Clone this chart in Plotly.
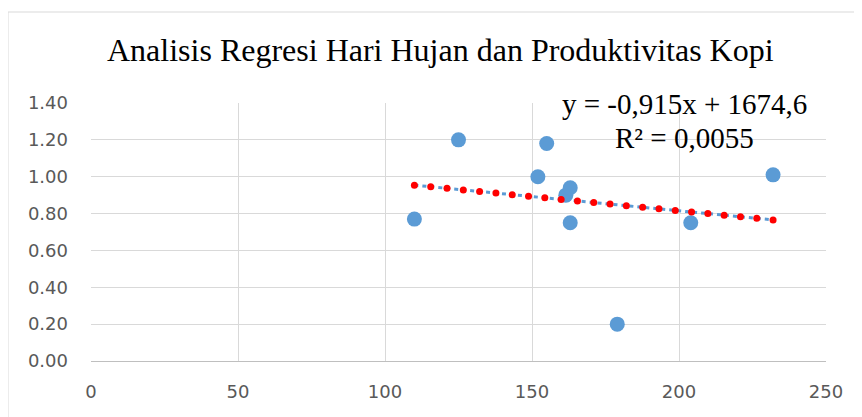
import numpy as np
import plotly.graph_objects as go

# Data
hari_hujan = [110, 125, 152, 155, 161.5, 163, 163, 179, 204, 232]
produktivitas = [0.77, 1.20, 1.00, 1.18, 0.90, 0.94, 0.75, 0.20, 0.75, 1.01]
title_text = "Analisis Regresi Hari Hujan dan Produktivitas Kopi"
eq_line1 = "y = -0,915x + 1674,6"
eq_line2 = "R² = 0,0055"
x_ticks = [0, 50, 100, 150, 200, 250]
y_ticks = [0.0, 0.2, 0.4, 0.6, 0.8, 1.0, 1.2, 1.4]

x = np.array(hari_hujan, dtype=float)
y = np.array(produktivitas, dtype=float)
slope, intercept = np.polyfit(x, y, 1)
tx = np.linspace(x.min(), x.max(), 23)
ty = slope * tx + intercept

# page body has an 8px margin
OFF = 8
W, H = 862 - OFF, 417 - OFF
ml, mt = 91 - OFF, 103 - OFF
mr = W - (826 - OFF)
mb = H - (361 - OFF)
pw, ph = W - ml - mr, H - mt - mb


def px_x(px):
    return (px - OFF - ml) / pw


def px_y(py):
    return (H - mb - (py - OFF)) / ph


fig = go.Figure()
fig.add_trace(go.Scatter(x=hari_hujan, y=produktivitas, mode="markers",
                         marker=dict(size=15, color="#5B9BD5", line=dict(width=0)),
                         showlegend=False))
fig.add_trace(go.Scatter(x=[tx[0], tx[-1]], y=[ty[0], ty[-1]], mode="lines",
                         line=dict(color="#5B9BD5", width=3, dash="4px,4px"),
                         showlegend=False))
fig.add_trace(go.Scatter(x=tx, y=ty, mode="markers",
                         marker=dict(size=7, color="#FF0000", line=dict(width=0)),
                         showlegend=False))

axis_font = dict(family="DejaVu Sans", size=18, color="#595959")
fig.update_xaxes(range=[0, 250], tickvals=x_ticks, showgrid=True, gridcolor="#D9D9D9",
                 gridwidth=1, zeroline=False, showline=True, linecolor="#BFBFBF",
                 linewidth=1, ticks="", tickfont=axis_font, ticklabelstandoff=14)
fig.update_yaxes(range=[0, 1.4], tickvals=y_ticks, tickformat=".2f", showgrid=True,
                 gridcolor="#D9D9D9", gridwidth=1, zeroline=False, showline=False,
                 ticks="", tickfont=axis_font, ticklabelstandoff=22)

serif = "Liberation Serif"
fig.add_annotation(text=title_text, xref="paper", yref="paper",
                   x=px_x(440), y=px_y(50),
                   xanchor="center", yanchor="middle", showarrow=False,
                   font=dict(family=serif, size=32, color="#000000"))
fig.add_annotation(text=eq_line1, xref="paper", yref="paper",
                   x=px_x(684), y=px_y(104),
                   xanchor="center", yanchor="middle", showarrow=False,
                   font=dict(family=serif, size=29, color="#000000"))
fig.add_annotation(text=eq_line2, xref="paper", yref="paper",
                   x=px_x(684), y=px_y(138),
                   xanchor="center", yanchor="middle", showarrow=False,
                   font=dict(family=serif, size=29, color="#000000"))

# chart outer frame
fig.add_shape(type="rect", xref="paper", yref="paper",
              x0=px_x(8), x1=1.3, y0=-0.5, y1=px_y(12),
              line=dict(color="#D9D9D9", width=1), fillcolor="rgba(0,0,0,0)", layer="below")

fig.update_layout(width=W, height=H, margin=dict(l=ml, r=mr, t=mt, b=mb),
                  paper_bgcolor="white", plot_bgcolor="white", showlegend=False)
fig.write_html("out.html")
